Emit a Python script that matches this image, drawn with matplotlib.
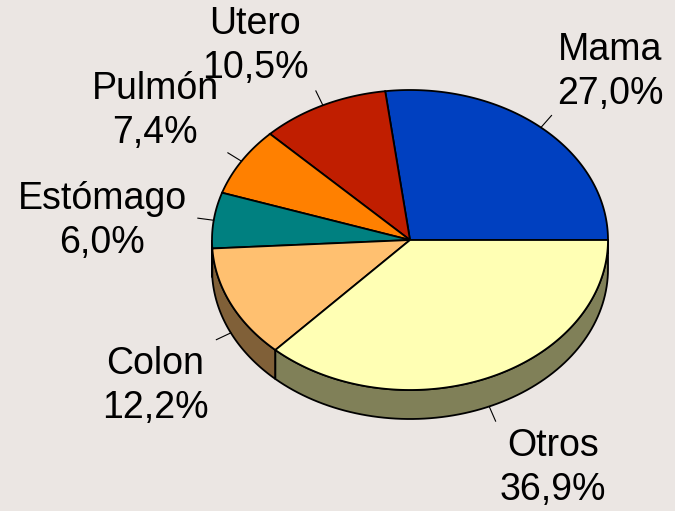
import numpy as np
import matplotlib
matplotlib.use("Agg")
import matplotlib.pyplot as plt
from matplotlib.patches import Polygon

# data
labels = ["Mama", "Utero", "Pulmón", "Estómago", "Colon", "Otros"]
shares = [27.0, 10.5, 7.4, 6.0, 12.2, 36.9]
pct_text = ["27,0%", "10,5%", "7,4%", "6,0%", "12,2%", "36,9%"]
top_colors = ["#0040C0", "#C01E00", "#FF8000", "#008080", "#FFC070", "#FFFFB4"]
side_colors = ["#002070", "#701000", "#905000", "#004848", "#806038", "#808058"]

# layout (pixel units)
W, H = 675, 511
cx, cy, rx, ry, depth = 410, 240, 198, 150, 29
label_pos = [(610, 72), (255, 46), (155, 111), (102, 221), (155, 386), (553, 468)]
BG = "#EBE6E3"

fig = plt.figure(figsize=(W / 100, H / 100), dpi=100, facecolor=BG)
ax = fig.add_axes([0, 0, 1, 1])
ax.set_xlim(0, W)
ax.set_ylim(H, 0)
ax.axis("off")
ax.set_facecolor(BG)

def pt(a, dy=0):
    r = np.radians(a)
    return cx + rx * np.cos(r), cy - ry * np.sin(r) + dy

bounds = np.concatenate([[0], np.cumsum(shares) / sum(shares) * 360])

# side walls (front half only: 180..360 deg)
for i in range(len(shares)):
    a0, a1 = max(bounds[i], 180), min(bounds[i + 1], 360)
    if a1 <= a0:
        continue
    aa = np.linspace(a0, a1, 80)
    top = [pt(a) for a in aa]
    bot = [pt(a, depth) for a in aa[::-1]]
    ax.add_patch(Polygon(top + bot, closed=True, facecolor=side_colors[i],
                         edgecolor="black", lw=1.3, zorder=1))

# top wedges
for i in range(len(shares)):
    aa = np.linspace(bounds[i], bounds[i + 1], 120)
    verts = [(cx, cy)] + [pt(a) for a in aa]
    ax.add_patch(Polygon(verts, closed=True, facecolor=top_colors[i],
                         edgecolor="black", lw=1.3, zorder=2))

# labels with short leader lines
for i in range(len(shares)):
    mid = (bounds[i] + bounds[i + 1]) / 2
    dy = depth if 180 < mid < 360 else 0
    x0, y0 = pt(mid, dy)
    r = np.radians(mid)
    ux, uy = np.cos(r), -np.sin(r)
    ax.plot([x0, x0 + ux * 16], [y0, y0 + uy * 16], color="black", lw=0.8, zorder=3)
    lx, ly = label_pos[i]
    ax.text(lx, ly, labels[i] + "\n" + pct_text[i], ha="center", va="center",
            fontsize=27, family="Liberation Sans", linespacing=1.32, zorder=4)

fig.savefig("out.png", dpi=100, facecolor=BG)
